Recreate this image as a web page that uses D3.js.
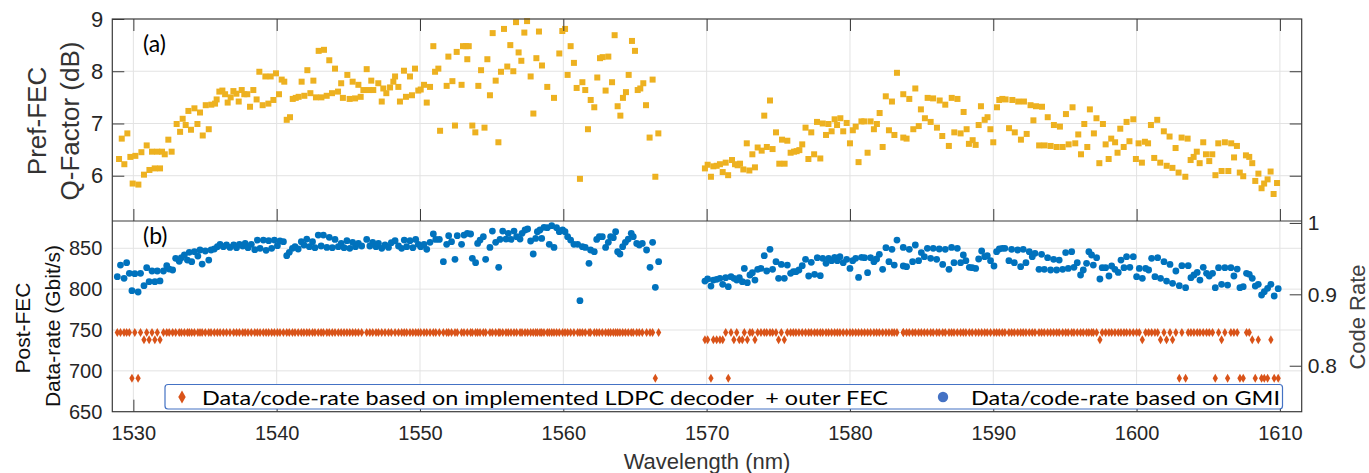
<!DOCTYPE html>
<html>
<head>
<meta charset="utf-8">
<script src="https://cdn.jsdelivr.net/npm/d3@7"></script>
<style>
  body { margin: 0; background: #fff; }
  svg text { font-family: "Liberation Sans", Arial, sans-serif; }
</style>
</head>
<body>
<div id="chart"></div>
<script>
// (a) pre-FEC Q-factor
const qWavelength = [
  1529.00, 1529.19, 1529.37, 1529.58, 1529.79, 1529.95, 1530.14, 1530.35, 1530.56, 1530.74,
  1530.93, 1531.12, 1531.30, 1531.49, 1531.67, 1531.86, 1532.00, 1532.19, 1532.44, 1532.67,
  1533.02, 1533.26, 1533.44, 1533.65, 1533.84, 1534.02, 1534.26, 1534.47, 1534.65, 1534.84,
  1535.05, 1535.26, 1535.44, 1535.70, 1535.81, 1536.00, 1536.21, 1536.40, 1536.58, 1536.79,
  1536.98, 1537.19, 1537.35, 1537.56, 1537.74, 1537.95, 1538.14, 1538.37, 1538.60, 1538.79,
  1539.02, 1539.21, 1539.42, 1539.58, 1539.77, 1539.95, 1540.16, 1540.35, 1540.53, 1540.70,
  1540.93, 1541.12, 1541.33, 1541.53, 1541.74, 1541.93, 1542.14, 1542.35, 1542.56, 1542.74,
  1542.93, 1543.12, 1543.30, 1543.49, 1543.67, 1543.86, 1544.07, 1544.28, 1544.50, 1544.62,
  1544.93, 1545.09, 1545.30, 1545.47, 1545.70, 1545.86, 1546.05, 1546.28, 1546.44, 1546.60,
  1546.74, 1547.09, 1547.33, 1547.44, 1547.65, 1547.91, 1548.14, 1548.26, 1548.49, 1548.60,
  1548.88, 1549.02, 1549.30, 1549.44, 1549.65, 1549.88, 1550.05, 1550.28, 1550.47, 1550.70,
  1550.93, 1551.05, 1551.28, 1551.40, 1551.86, 1551.98, 1552.26, 1552.44, 1552.56, 1552.90,
  1553.00, 1553.20, 1553.30, 1553.40, 1553.65, 1553.86, 1554.07, 1554.26, 1554.50, 1554.70,
  1554.88, 1555.07, 1555.28, 1555.47, 1555.65, 1555.86, 1556.09, 1556.30, 1556.51, 1556.70,
  1556.88, 1557.07, 1557.28, 1557.47, 1557.72, 1557.91, 1558.12, 1558.30, 1558.51, 1558.88,
  1559.35, 1559.72, 1559.93, 1560.12, 1560.30, 1560.51, 1560.74, 1560.93, 1561.16, 1561.33,
  1561.53, 1561.72, 1561.91, 1562.16, 1562.37, 1562.56, 1562.74, 1562.95, 1563.14, 1563.40,
  1563.58, 1563.79, 1563.98, 1564.16, 1564.37, 1564.56, 1564.79, 1565.00, 1565.19, 1565.37,
  1565.58, 1565.77, 1566.02, 1566.23, 1566.42, 1566.63,
  1569.88, 1570.07, 1570.30, 1570.47, 1570.70, 1570.93, 1571.12, 1571.33, 1571.50, 1571.77,
  1571.98, 1572.16, 1572.33, 1572.56, 1572.80, 1572.98, 1573.19, 1573.37, 1573.56, 1573.84,
  1574.02, 1574.20, 1574.42, 1574.60, 1574.84, 1575.07, 1575.26, 1575.44, 1575.63, 1575.86,
  1576.10, 1576.28, 1576.47, 1576.67, 1576.90, 1577.10, 1577.30, 1577.50, 1577.70, 1577.93,
  1578.10, 1578.33, 1578.50, 1578.72, 1578.93, 1579.10, 1579.33, 1579.53, 1579.77, 1580.00,
  1580.20, 1580.40, 1580.60, 1580.80, 1581.00, 1581.23, 1581.44, 1581.67, 1581.88, 1582.07,
  1582.28, 1582.50, 1582.72, 1582.93, 1583.10, 1583.28, 1583.72, 1583.72, 1583.95, 1584.14,
  1584.42, 1584.56, 1584.80, 1584.95, 1585.23, 1585.42, 1585.63, 1585.80, 1586.07, 1586.26,
  1586.44, 1586.65, 1586.90, 1587.10, 1587.28, 1587.50, 1587.72, 1587.93, 1588.14, 1588.30,
  1588.56, 1588.77, 1588.98, 1589.14, 1589.40, 1589.60, 1589.80, 1590.00, 1590.26, 1590.42,
  1590.63, 1590.86, 1591.10, 1591.33, 1591.50, 1591.74, 1591.93, 1592.14, 1592.33, 1592.60,
  1592.80, 1592.98, 1593.20, 1593.40, 1593.58, 1593.80, 1594.00, 1594.23, 1594.42, 1594.65,
  1594.84, 1595.07, 1595.26, 1595.53, 1595.72, 1595.93, 1596.12, 1596.35, 1596.56, 1596.74,
  1597.02, 1597.20, 1597.40, 1597.65, 1597.84, 1598.05, 1598.23, 1598.50, 1598.67, 1598.86,
  1599.10, 1599.30, 1599.50, 1599.77, 1599.95, 1600.14, 1600.37, 1600.58, 1600.80, 1601.00,
  1601.23, 1601.44, 1601.65, 1601.90, 1602.10, 1602.30, 1602.50, 1602.72, 1602.93, 1603.14,
  1603.40, 1603.56, 1603.77, 1603.98, 1604.20, 1604.40, 1604.65, 1604.84, 1605.07, 1605.28,
  1605.50, 1605.70, 1605.93, 1606.16, 1606.40, 1606.60, 1606.80, 1607.00, 1607.20, 1607.44,
  1607.63, 1607.86, 1608.07, 1608.28, 1608.50, 1608.72, 1608.90, 1609.14, 1609.35, 1609.56,
  1609.80
];
const qFactor = [
  6.32, 6.71, 6.22, 6.81, 6.36, 5.85, 6.38, 5.83, 6.45, 6.02,
  6.58, 6.11, 6.46, 6.14, 6.46, 6.14, 6.46, 6.41, 6.69, 6.46,
  6.99, 6.84, 7.09, 6.97, 7.24, 6.88, 7.29, 6.99, 7.21, 6.77,
  7.35, 6.89, 7.36, 7.38, 7.46, 7.61, 7.63, 7.56, 7.40, 7.50,
  7.62, 7.57, 7.42, 7.64, 7.56, 7.56, 7.32, 7.64, 7.46, 7.99,
  7.35, 7.90, 7.38, 7.90, 7.45, 7.96, 7.56, 7.84, 7.80, 7.07,
  7.12, 7.47, 7.49, 7.51, 7.80, 7.53, 8.02, 7.58, 7.82, 7.50,
  8.39, 7.50, 8.41, 7.53, 8.21, 7.58, 8.05, 7.61, 7.77, 7.49,
  7.93, 7.47, 7.80, 7.48, 7.74, 7.51, 7.64, 8.04, 7.64, 7.82,
  7.64, 7.77, 7.42, 7.67, 7.58, 7.69, 7.80, 7.90, 7.70, 7.42,
  8.01, 7.51, 7.90, 7.54, 8.05, 7.63, 7.65, 7.74, 7.40, 7.70,
  8.48, 7.99, 8.05, 6.86, 7.72, 8.28, 7.81, 6.96, 8.37, 7.74,
  8.48, 8.48, 8.23, 8.48, 6.96, 6.83, 7.72, 8.02, 6.92, 8.23,
  7.54, 8.73, 7.82, 6.64, 7.99, 8.81, 8.09, 8.50, 8.00, 8.94,
  8.36, 8.20, 8.74, 8.96, 7.90, 7.19, 8.25, 8.76, 8.11, 7.70,
  7.49, 8.34, 8.77, 8.81, 7.93, 8.48, 8.16, 7.68, 5.94, 7.79,
  7.64, 6.89, 7.45, 7.31, 7.88, 8.25, 8.27, 7.63, 8.28, 7.79,
  8.69, 7.33, 7.15, 7.49, 7.60, 7.93, 8.58, 8.39, 7.64, 7.67,
  7.77, 7.35, 6.73, 7.84, 5.98, 6.81,
  6.14, 6.21, 5.98, 6.18, 6.19, 6.22, 6.07, 6.25, 6.01, 6.30,
  6.22, 6.20, 6.23, 6.12, 6.62, 6.10, 6.41, 6.16, 6.54, 6.48,
  7.15, 6.55, 7.44, 6.51, 6.83, 6.23, 6.69, 6.23, 6.67, 6.44,
  6.46, 6.47, 6.49, 6.60, 6.92, 6.32, 6.83, 6.41, 7.03, 6.33,
  7.00, 6.78, 6.99, 6.85, 7.08, 6.97, 7.10, 6.85, 7.01, 6.62,
  6.87, 6.94, 6.26, 7.04, 7.04, 6.44, 7.04, 6.89, 6.99, 7.20,
  6.55, 7.52, 6.87, 7.42, 6.78, 7.97, 7.56, 6.73, 6.71, 7.47,
  6.89, 7.67, 6.95, 7.27, 7.10, 7.49, 7.03, 7.48, 6.92, 7.44,
  6.76, 7.36, 6.57, 7.49, 6.83, 7.47, 6.81, 7.22, 6.89, 6.61,
  6.68, 6.59, 6.97, 7.33, 7.07, 7.12, 6.89, 6.64, 7.31, 7.45,
  7.47, 7.46, 6.91, 7.45, 6.83, 7.42, 6.69, 7.42, 6.80, 7.35,
  7.06, 7.33, 6.58, 7.32, 6.58, 7.12, 6.57, 6.97, 6.55, 6.94,
  6.55, 7.18, 6.60, 7.31, 6.62, 6.79, 6.41, 6.99, 6.55, 7.27,
  6.81, 7.10, 6.24, 6.99, 6.60, 6.32, 6.71, 6.64, 6.44, 6.90,
  6.55, 7.03, 6.66, 7.08, 6.32, 6.62, 6.25, 6.65, 6.62, 6.97,
  6.34, 7.07, 6.25, 6.85, 6.19, 6.75, 6.15, 6.53, 6.06, 6.73,
  5.98, 6.71, 6.30, 6.36, 6.46, 6.24, 6.64, 6.41, 6.28, 6.41,
  6.01, 6.62, 6.09, 6.64, 6.09, 6.62, 6.35, 6.57, 6.06, 5.99,
  6.39, 6.36, 6.24, 5.90, 6.04, 5.76, 5.85, 5.93, 6.08, 5.65,
  5.86
];

// (b) post-FEC data-rate, GMI based and implemented LDPC + outer FEC
const rateWavelength = [
  1528.88, 1529.10, 1529.35, 1529.53, 1529.72, 1529.90, 1530.10, 1530.33, 1530.50, 1530.74,
  1530.93, 1531.10, 1531.30, 1531.50, 1531.67, 1531.86, 1532.10, 1532.33, 1532.50, 1532.74,
  1532.95, 1533.20, 1533.35, 1533.56, 1533.77, 1533.90, 1534.07, 1534.26, 1534.50, 1534.65,
  1534.80, 1535.02, 1535.26, 1535.42, 1535.65, 1535.86, 1536.05, 1536.28, 1536.50, 1536.74,
  1537.00, 1537.20, 1537.40, 1537.63, 1537.80, 1538.00, 1538.23, 1538.47, 1538.65, 1538.84,
  1539.07, 1539.26, 1539.44, 1539.65, 1539.84, 1540.05, 1540.23, 1540.47, 1540.70, 1540.88,
  1541.10, 1541.28, 1541.50, 1541.72, 1541.90, 1542.10, 1542.28, 1542.50, 1542.67, 1542.90,
  1543.10, 1543.26, 1543.50, 1543.67, 1543.88, 1544.07, 1544.30, 1544.50, 1544.70, 1544.90,
  1545.10, 1545.30, 1545.50, 1545.70, 1545.93, 1546.28, 1546.50, 1546.70, 1546.93, 1547.10,
  1547.33, 1547.56, 1547.80, 1548.00, 1548.26, 1548.50, 1548.72, 1548.90, 1549.07, 1549.30,
  1549.50, 1549.70, 1549.88, 1550.05, 1550.28, 1550.47, 1550.70, 1550.93, 1551.10, 1551.35,
  1551.63, 1551.86, 1552.00, 1552.20, 1552.44, 1552.60, 1552.90, 1553.07, 1553.30, 1553.53,
  1553.65, 1553.88, 1554.02, 1554.19, 1554.42, 1554.58, 1554.88, 1555.05, 1555.28, 1555.49,
  1555.58, 1555.77, 1556.00, 1556.16, 1556.35, 1556.56, 1556.74, 1556.98, 1557.12, 1557.33,
  1557.51, 1557.72, 1557.90, 1558.07, 1558.19, 1558.37, 1558.49, 1558.65, 1558.88, 1559.02,
  1559.19, 1559.35, 1559.53, 1559.72, 1559.95, 1560.12, 1560.30, 1560.51, 1560.74, 1561.00,
  1561.16, 1561.33, 1561.53, 1561.79, 1561.90, 1562.16, 1562.33, 1562.51, 1562.72, 1562.95,
  1563.14, 1563.30, 1563.49, 1563.65, 1563.79, 1563.95, 1564.14, 1564.33, 1564.53, 1564.74,
  1564.88, 1565.12, 1565.30, 1565.51, 1565.81, 1566.05, 1566.23, 1566.42, 1566.65,
  1569.88, 1570.07, 1570.30, 1570.47, 1570.70, 1570.93, 1571.12, 1571.33, 1571.51, 1571.70,
  1571.90, 1572.10, 1572.28, 1572.49, 1572.63, 1572.84, 1573.02, 1573.19, 1573.37, 1573.56,
  1573.79, 1574.02, 1574.19, 1574.42, 1574.60, 1574.84, 1575.02, 1575.21, 1575.42, 1575.63,
  1575.86, 1576.05, 1576.23, 1576.44, 1576.67, 1576.90, 1577.12, 1577.30, 1577.53, 1577.72,
  1577.93, 1578.10, 1578.33, 1578.51, 1578.72, 1578.93, 1579.12, 1579.30, 1579.53, 1579.77,
  1580.00, 1580.19, 1580.40, 1580.60, 1580.81, 1581.02, 1581.23, 1581.44, 1581.67, 1581.86,
  1582.05, 1582.28, 1582.51, 1582.72, 1582.93, 1583.09, 1583.28, 1583.72, 1583.72, 1583.95,
  1584.14, 1584.37, 1584.56, 1584.79, 1584.98, 1585.19, 1585.40, 1585.63, 1585.81, 1586.05,
  1586.23, 1586.47, 1586.65, 1586.91, 1587.09, 1587.26, 1587.49, 1587.72, 1587.91, 1588.09,
  1588.33, 1588.53, 1588.77, 1588.98, 1589.19, 1589.40, 1589.58, 1589.81, 1590.05, 1590.23,
  1590.42, 1590.63, 1590.81, 1591.09, 1591.28, 1591.47, 1591.70, 1591.91, 1592.09, 1592.28,
  1592.51, 1592.72, 1592.91, 1593.19, 1593.37, 1593.56, 1593.79, 1594.00, 1594.21, 1594.42,
  1594.60, 1594.84, 1595.05, 1595.23, 1595.47, 1595.63, 1595.86, 1596.09, 1596.28, 1596.51,
  1596.67, 1596.86, 1596.98, 1597.21, 1597.44, 1597.60, 1597.84, 1598.07, 1598.26, 1598.49,
  1598.72, 1598.91, 1599.12, 1599.30, 1599.53, 1599.77, 1600.00, 1600.19, 1600.40, 1600.63,
  1600.84, 1601.05, 1601.28, 1601.47, 1601.67, 1601.91, 1602.09, 1602.33, 1602.51, 1602.74,
  1602.98, 1603.16, 1603.42, 1603.60, 1603.79, 1604.00, 1604.23, 1604.42, 1604.65, 1604.88,
  1605.07, 1605.30, 1605.49, 1605.72, 1605.93, 1606.16, 1606.35, 1606.58, 1606.79, 1607.02,
  1607.21, 1607.44, 1607.67, 1607.86, 1608.07, 1608.28, 1608.49, 1608.72, 1608.91, 1609.14,
  1609.37, 1609.60, 1609.88
];
const gmiRate = [
  815.2, 829.5, 813.2, 832.4, 819.3, 798.1, 818.9, 796.5, 819.3, 804.2,
  826.3, 809.1, 822.2, 809.1, 822.2, 810.0, 822.2, 828.7, 824.6, 823.4,
  837.7, 834.0, 838.5, 841.8, 835.6, 845.0, 833.6, 845.8, 840.5, 847.9,
  830.7, 846.7, 835.6, 847.9, 849.1, 852.0, 854.8, 852.0, 854.0, 851.1,
  854.0, 850.7, 854.8, 852.8, 856.0, 850.7, 854.8, 848.3, 860.1, 849.9,
  860.1, 847.5, 859.3, 849.9, 860.1, 853.2, 858.9, 858.1, 841.0, 845.0,
  849.9, 852.0, 849.1, 858.1, 854.0, 861.3, 852.0, 858.1, 850.7, 866.2,
  852.8, 866.2, 851.1, 863.4, 850.7, 860.9, 852.0, 856.0, 850.7, 859.3,
  849.9, 857.3, 852.0, 856.0, 852.8, 860.9, 852.8, 857.3, 852.0, 856.0,
  849.9, 854.0, 851.1, 856.9, 859.3, 852.8, 849.9, 860.1, 852.0, 859.3,
  850.7, 860.9, 854.8, 852.0, 854.8, 848.7, 857.3, 867.5, 860.9, 860.9,
  833.6, 854.8, 865.4, 858.1, 836.5, 865.4, 854.8, 866.2, 868.3, 867.5,
  837.7, 832.4, 856.0, 860.1, 864.2, 836.5, 851.1, 871.1, 857.3, 826.7,
  860.9, 871.1, 861.3, 868.3, 860.9, 871.1, 864.2, 861.3, 868.3, 872.4,
  873.6, 858.9, 843.0, 862.1, 870.3, 872.4, 862.1, 875.6, 875.2, 854.8,
  877.7, 851.1, 875.2, 870.3, 872.4, 870.3, 864.2, 860.1, 854.8, 854.8,
  785.9, 852.0, 851.1, 831.6, 847.9, 845.8, 860.9, 864.2, 864.2, 851.1,
  857.3, 864.2, 863.0, 870.3, 845.8, 843.0, 852.0, 857.3, 861.3, 868.3,
  864.2, 856.0, 854.0, 856.0, 847.9, 826.7, 857.3, 802.2, 833.6,
  809.9, 812.4, 803.8, 811.1, 812.0, 813.2, 805.9, 814.0, 803.0, 815.2,
  813.2, 811.1, 814.0, 809.1, 825.4, 807.9, 817.3, 820.1, 811.1, 824.2,
  825.4, 840.9, 822.2, 848.7, 824.2, 833.6, 813.2, 830.3, 813.2, 829.5,
  819.3, 821.4, 821.4, 823.4, 828.7, 836.5, 816.1, 832.8, 818.1, 838.5,
  816.5, 837.7, 831.6, 837.7, 834.8, 838.9, 834.8, 839.7, 832.4, 836.5,
  825.4, 834.8, 837.7, 814.4, 838.9, 838.5, 820.1, 838.5, 833.6, 836.9,
  842.6, 824.2, 850.7, 833.6, 848.7, 829.5, 860.1, 851.1, 828.3, 827.5,
  848.7, 833.6, 854.0, 834.8, 844.6, 839.7, 849.9, 837.7, 849.9, 836.5,
  849.1, 830.3, 848.7, 824.2, 851.1, 832.4, 849.9, 832.4, 841.8, 834.8,
  826.7, 826.3, 825.4, 836.9, 846.7, 839.7, 841.0, 834.8, 828.3, 845.8,
  849.1, 849.9, 849.9, 834.8, 848.7, 832.4, 847.9, 827.5, 848.7, 832.4,
  845.8, 839.7, 843.8, 824.2, 842.6, 824.2, 838.5, 823.4, 836.5, 823.4,
  835.6, 824.2, 844.6, 825.4, 845.8, 826.7, 832.4, 817.3, 823.4, 831.6,
  845.8, 841.8, 829.5, 838.5, 812.4, 826.3, 826.3, 816.1, 828.3, 824.2,
  820.5, 835.6, 826.3, 839.7, 826.7, 839.7, 815.2, 825.4, 813.2, 825.4,
  823.4, 837.7, 815.2, 838.5, 813.2, 833.6, 809.9, 830.3, 807.1, 822.2,
  804.2, 828.7, 801.8, 828.7, 814.0, 817.3, 820.5, 811.1, 826.7, 819.3,
  816.1, 819.3, 801.8, 826.3, 805.9, 826.3, 805.0, 826.3, 816.1, 824.6,
  801.8, 803.0, 819.3, 818.1, 813.2, 803.8, 805.9, 792.8, 796.9, 801.0,
  805.9, 791.6, 800.6
];
const ldpcRate = [
  747, 747, 747, 747, 747, 691, 747, 691, 747, 738,
  747, 738, 747, 738, 747, 738, 747, 747, 747, 747,
  747, 747, 747, 747, 747, 747, 747, 747, 747, 747,
  747, 747, 747, 747, 747, 747, 747, 747, 747, 747,
  747, 747, 747, 747, 747, 747, 747, 747, 747, 747,
  747, 747, 747, 747, 747, 747, 747, 747, 747, 747,
  747, 747, 747, 747, 747, 747, 747, 747, 747, 747,
  747, 747, 747, 747, 747, 747, 747, 747, 747, 747,
  747, 747, 747, 747, 747, 747, 747, 747, 747, 747,
  747, 747, 747, 747, 747, 747, 747, 747, 747, 747,
  747, 747, 747, 747, 747, 747, 747, 747, 747, 747,
  747, 747, 747, 747, 747, 747, 747, 747, 747, 747,
  747, 747, 747, 747, 747, 747, 747, 747, 747, 747,
  747, 747, 747, 747, 747, 747, 747, 747, 747, 747,
  747, 747, 747, 747, 747, 747, 747, 747, 747, 747,
  747, 747, 747, 747, 747, 747, 747, 747, 747, 747,
  747, 747, 747, 747, 747, 747, 747, 747, 747, 747,
  747, 747, 747, 747, 747, 747, 747, 747, 747, 747,
  747, 747, 747, 747, 747, 747, 747, 691, 747,
  738, 738, 691, 738, 738, 738, 738, 747, 691, 747,
  738, 747, 738, 738, 747, 738, 747, 747, 738, 747,
  747, 747, 747, 747, 747, 747, 738, 747, 738, 747,
  747, 747, 747, 747, 747, 747, 747, 747, 747, 747,
  747, 747, 747, 747, 747, 747, 747, 747, 747, 747,
  747, 747, 747, 747, 747, 747, 747, 747, 747, 747,
  747, 747, 747, 747, 747, 747, 747, 747, 747, 747,
  747, 747, 747, 747, 747, 747, 747, 747, 747, 747,
  747, 747, 747, 747, 747, 747, 747, 747, 747, 747,
  747, 747, 747, 747, 747, 747, 747, 747, 747, 747,
  747, 747, 747, 747, 747, 747, 747, 747, 747, 747,
  747, 747, 747, 747, 747, 747, 747, 747, 747, 747,
  747, 747, 747, 747, 747, 747, 747, 747, 747, 747,
  747, 747, 747, 747, 738, 747, 747, 747, 747, 747,
  747, 747, 747, 747, 747, 747, 747, 747, 738, 747,
  747, 747, 747, 747, 738, 747, 738, 747, 738, 747,
  691, 747, 691, 747, 747, 747, 747, 747, 747, 747,
  747, 747, 691, 747, 738, 747, 691, 747, 747, 747,
  691, 691, 747, 747, 738, 691, 738, 691, 691, 691,
  738, 691, 691
];

const xTicks = [1530, 1540, 1550, 1560, 1570, 1580, 1590, 1600, 1610];
const qTicks = [6, 7, 8, 9];
const rateTicks = [650, 700, 750, 800, 850];
const codeRateTicks = [0.8, 0.9, 1];

const W = 1369, H = 473;
const left = 112.3, right = 1301.7;
const topA = 19, mid = 221, bottomB = 411.7;
const axisColor = "#3a3a3a";
const textColor = "#262626";
const gridColor = "#e3e3e3";

const svg = d3.select("#chart").append("svg").attr("width", W).attr("height", H);

const x = d3.scaleLinear().domain([1528.53, 1611.52]).range([left, right]);
const yQ = d3.scaleLinear().domain([5.133, 9]).range([mid, topA]);
const yRate = d3.scaleLinear().domain([650, 883.4]).range([bottomB, mid]);
const yCode = d3.scaleLinear().domain([0.7356, 1.0027]).range([bottomB, mid]);

// grid
const grid = svg.append("g").attr("stroke", gridColor).attr("stroke-width", 1);
xTicks.forEach((t) => {
  grid.append("line").attr("x1", x(t)).attr("x2", x(t)).attr("y1", topA).attr("y2", bottomB);
});
qTicks.slice(0, 3).forEach((t) => {
  grid.append("line").attr("x1", left).attr("x2", right).attr("y1", yQ(t)).attr("y2", yQ(t));
});
rateTicks.slice(1).forEach((t) => {
  grid.append("line").attr("x1", left).attr("x2", right).attr("y1", yRate(t)).attr("y2", yRate(t));
});

// (a) squares
svg.append("g")
  .selectAll("rect")
  .data(qWavelength.map((w, i) => [w, qFactor[i]]))
  .enter()
  .append("rect")
  .attr("x", (d) => x(d[0]) - 3)
  .attr("y", (d) => yQ(d[1]) - 3)
  .attr("width", 6)
  .attr("height", 6)
  .style("fill", "#EDB120");

// (b) GMI dots
const rateData = rateWavelength.map((w, i) => ({ w: w, gmi: gmiRate[i], ldpc: ldpcRate[i] }));
svg.append("g")
  .selectAll("circle")
  .data(rateData)
  .enter()
  .append("circle")
  .attr("cx", (d) => x(d.w))
  .attr("cy", (d) => yRate(d.gmi))
  .attr("r", 3.4)
  .style("fill", "#0072BD");

// (b) implemented LDPC diamonds
const diamond = d3.symbol().type(d3.symbolDiamond).size(24);
svg.append("g")
  .selectAll("path")
  .data(rateData)
  .enter()
  .append("path")
  .attr("d", diamond)
  .attr("transform", (d) => "translate(" + x(d.w) + "," + yRate(d.ldpc) + ")")
  .style("fill", "#D95319");

// axes
function styleAxis(g, size) {
  g.select(".domain").remove();
  g.selectAll(".tick line").attr("stroke", axisColor);
  g.selectAll(".tick text")
    .attr("fill", textColor)
    .style("font-size", size + "px");
}

svg.append("g")
  .attr("transform", "translate(0," + topA + ")")
  .call(d3.axisTop(x).tickValues(xTicks).tickSize(-12).tickFormat(""))
  .call((g) => styleAxis(g, 20));

svg.append("g")
  .attr("transform", "translate(0," + mid + ")")
  .call(d3.axisBottom(x).tickValues(xTicks).tickSize(-12).tickFormat(""))
  .call((g) => styleAxis(g, 20));

svg.append("g")
  .attr("transform", "translate(0," + bottomB + ")")
  .call(d3.axisBottom(x).tickValues(xTicks).tickSize(-12).tickPadding(14).tickFormat(d3.format("d")))
  .call((g) => styleAxis(g, 20));

svg.append("g")
  .attr("transform", "translate(" + left + ",0)")
  .call(d3.axisLeft(yQ).tickValues(qTicks).tickSize(-12).tickPadding(9).tickFormat(d3.format("d")))
  .call((g) => styleAxis(g, 22));

svg.append("g")
  .attr("transform", "translate(" + right + ",0)")
  .call(d3.axisRight(yQ).tickValues(qTicks.slice(0, 3)).tickSize(-12).tickFormat(""))
  .call((g) => styleAxis(g, 20));

svg.append("g")
  .attr("transform", "translate(" + left + ",0)")
  .call(d3.axisLeft(yRate).tickValues(rateTicks).tickSize(0).tickPadding(10).tickFormat(d3.format("d")))
  .call((g) => styleAxis(g, 20));

svg.append("g")
  .attr("transform", "translate(" + right + ",0)")
  .call(d3.axisRight(yCode).tickValues(codeRateTicks).tickSize(-12).tickPadding(6).tickFormat((d) => (d === 1 ? "1" : d3.format(".1f")(d))))
  .call((g) => styleAxis(g, 21));

// axis boxes
svg.append("rect")
  .attr("x", left).attr("y", topA)
  .attr("width", right - left).attr("height", bottomB - topA)
  .attr("fill", "none").attr("stroke", axisColor).attr("stroke-width", 1.2);
svg.append("line")
  .attr("x1", left).attr("x2", right).attr("y1", mid).attr("y2", mid)
  .attr("stroke", axisColor).attr("stroke-width", 1.2);

// axis titles
function vLabel(xPos, yPos, text, size, color) {
  svg.append("text")
    .attr("transform", "translate(" + xPos + "," + yPos + ") rotate(-90)")
    .attr("text-anchor", "middle")
    .attr("fill", color)
    .style("font-size", size + "px")
    .text(text);
}
vLabel(46, 121, "Pref-FEC", 26, "#333");
vLabel(79, 121, "Q-Factor (dB)", 26, "#333");
vLabel(30, 328, "Post-FEC", 21, "#111");
vLabel(60, 326, "Data-rate (Gbit/s)", 21, "#111");
vLabel(1365, 317, "Code Rate", 22, "#404040");

svg.append("text")
  .attr("x", (left + right) / 2)
  .attr("y", 469)
  .attr("text-anchor", "middle")
  .attr("fill", "#333")
  .style("font-size", "22px")
  .text("Wavelength (nm)");

svg.append("text")
  .attr("x", 143).attr("y", 52)
  .style("font-family", "Lato, 'Open Sans', sans-serif")
  .style("font-size", "23px")
  .attr("fill", "#000")
  .text("(a)");
svg.append("text")
  .attr("x", 143).attr("y", 244)
  .style("font-family", "Lato, 'Open Sans', sans-serif")
  .style("font-size", "23px")
  .attr("fill", "#000")
  .text("(b)");

// legend
const legend = svg.append("g");
legend.append("rect")
  .attr("x", 165).attr("y", 384.5)
  .attr("width", 1282.5 - 165).attr("height", 24.5)
  .attr("rx", 3)
  .attr("fill", "#fff")
  .attr("stroke", "#4472C4")
  .attr("stroke-width", 1.2);
legend.append("path")
  .attr("d", d3.symbol().type(d3.symbolDiamond).size(48))
  .attr("transform", "translate(182,397)")
  .style("fill", "#D95319");
legend.append("text")
  .attr("x", 202).attr("y", 404.5)
  .style("font-family", "Lato, 'Open Sans', sans-serif")
  .style("font-size", "20px")
  .style("white-space", "pre")
  .attr("textLength", 686)
  .attr("lengthAdjust", "spacingAndGlyphs")
  .attr("fill", "#000")
  .text("Data/code-rate based on implemented LDPC decoder  + outer FEC");
legend.append("circle")
  .attr("cx", 943).attr("cy", 397).attr("r", 5.2)
  .style("fill", "#4472C4");
legend.append("text")
  .attr("x", 971).attr("y", 404.5)
  .style("font-family", "Lato, 'Open Sans', sans-serif")
  .style("font-size", "20px")
  .attr("textLength", 309)
  .attr("lengthAdjust", "spacingAndGlyphs")
  .attr("fill", "#000")
  .text("Data/code-rate based on GMI");
</script>
</body>
</html>
